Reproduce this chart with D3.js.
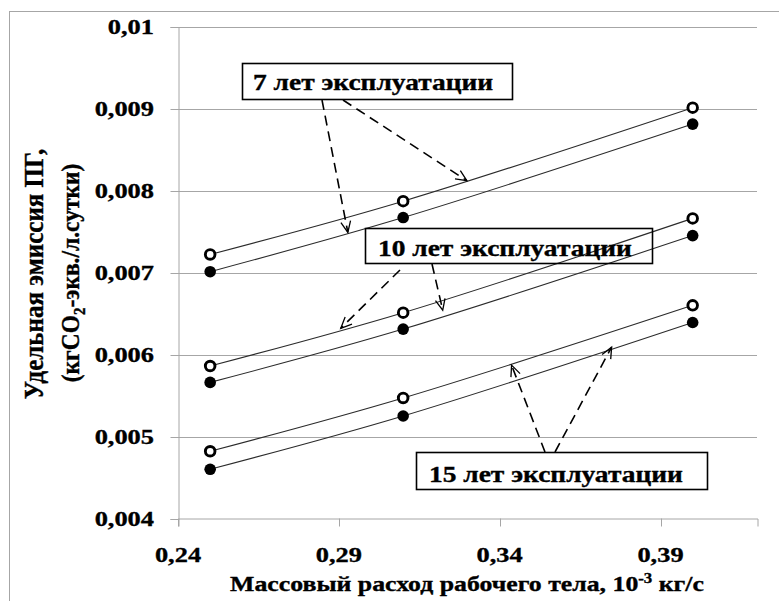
<!DOCTYPE html>
<html>
<head>
<meta charset="utf-8">
<script src="https://cdn.jsdelivr.net/npm/d3@7"></script>
<style>
  body { margin: 0; background: #fff; }
  svg { display: block; }
  text { font-family: "Liberation Serif", "Times New Roman", serif; font-weight: bold; fill: #000; stroke: #000; stroke-width: 0.35px; }
</style>
</head>
<body>
<div id="chart"></div>
<script>
// mass flow of working fluid, 10^-3 kg/s
var xValues = [0.25, 0.31, 0.40];

// open markers (upper curve) and filled markers (lower curve) for each service life
var open7 = [0.00722, 0.00787, 0.00901];
var solid7 = [0.00701, 0.00767, 0.00881];
var open10 = [0.00586, 0.00651, 0.00766];
var solid10 = [0.00566, 0.00631, 0.00745];
var open15 = [0.00482, 0.00547, 0.00660];
var solid15 = [0.00460, 0.00525, 0.00639];

var xTicks = [0.24, 0.29, 0.34, 0.39];
var yTicks = [0.004, 0.005, 0.006, 0.007, 0.008, 0.009, 0.01];
var yTickLabels = ["0,004", "0,005", "0,006", "0,007", "0,008", "0,009", "0,01"];
var xTickLabels = ["0,24", "0,29", "0,34", "0,39"];

var noteLabels = ["7 лет эксплуатации", "10 лет эксплуатации", "15 лет эксплуатации"];

var W = 779, H = 601;
var SX = 1.2; // the original picture is stretched horizontally

var svg = d3.select("#chart").append("svg")
    .attr("width", W)
    .attr("height", H);

// outer chart border (runs off the right and bottom)
svg.append("rect")
    .attr("x", 9.5).attr("y", 11.5)
    .attr("width", 800).attr("height", 700)
    .attr("fill", "none")
    .attr("stroke", "#a6a6a6");

var x = d3.scaleLinear().domain([0.24, 0.42]).range([178, 757]);
var y = d3.scaleLinear().domain([0.004, 0.01]).range([518.5, 26.5]);

// gridlines
svg.append("g").selectAll("line")
    .data(yTicks.slice(1))
    .enter().append("line")
    .attr("x1", x.range()[0]).attr("x2", x.range()[1])
    .attr("y1", function(d) { return Math.round(y(d)) + 0.5; })
    .attr("y2", function(d) { return Math.round(y(d)) + 0.5; })
    .attr("stroke", "#a6a6a6");

// axes
var yAxis = d3.axisLeft(y).tickValues(yTicks).tickSize(8).tickFormat("");
var xAxis = d3.axisBottom(x).tickValues(xTicks).tickSize(8).tickFormat("");

var gy = svg.append("g").attr("transform", "translate(178.5,0.5)").call(yAxis);
var gx = svg.append("g").attr("transform", "translate(0.5,518.5)").call(xAxis);
[gy, gx].forEach(function(g) {
    g.select(".domain").attr("stroke", "#a6a6a6");
    g.selectAll(".tick line").attr("stroke", "#a6a6a6");
});
gy.selectAll(".tick").attr("transform", function(d) { return "translate(0," + Math.round(y(d)) + ")"; });
gx.selectAll(".tick").attr("transform", function(d) { return "translate(" + Math.round(x(d)) + ",0)"; });

// tick labels
svg.append("g").selectAll("text")
    .data(yTicks)
    .enter().append("text")
    .attr("transform", function(d) { return "translate(154," + (y(d) + 7.5) + ") scale(" + SX + ",1)"; })
    .attr("text-anchor", "end")
    .style("font-size", "22px")
    .text(function(d, i) { return yTickLabels[i]; });

svg.append("g").selectAll("text")
    .data(xTicks)
    .enter().append("text")
    .attr("transform", function(d) { return "translate(" + x(d) + ",562) scale(" + SX + ",1)"; })
    .attr("text-anchor", "middle")
    .style("font-size", "22px")
    .text(function(d, i) { return xTickLabels[i]; });

// axis titles
var xt = svg.append("text")
    .attr("transform", "translate(467,591) scale(" + SX + ",1)")
    .attr("text-anchor", "middle")
    .style("font-size", "21.5px");
xt.append("tspan").text("Массовый расход рабочего тела, 10");
xt.append("tspan").attr("dy", -8).style("font-size", "14px").text("-3");
xt.append("tspan").attr("dy", 8).text(" кг/с");

svg.append("text")
    .attr("transform", "translate(43,274) scale(1.1,1) rotate(-90)")
    .attr("text-anchor", "middle")
    .style("font-size", "25px")
    .text("Удельная эмиссия ПГ,");

var yt2 = svg.append("text")
    .attr("transform", "translate(79,273) scale(1.1,1) rotate(-90)")
    .attr("text-anchor", "middle")
    .style("font-size", "23.5px");
yt2.append("tspan").text("(кгCO");
yt2.append("tspan").attr("dy", 5).style("font-size", "15px").text("2");
yt2.append("tspan").attr("dy", -5).text("-экв./л.сутки)");

// curves and markers
var seriesList = [
    { values: open7, open: true }, { values: solid7, open: false },
    { values: open10, open: true }, { values: solid10, open: false },
    { values: open15, open: true }, { values: solid15, open: false }
];

var line = d3.line()
    .x(function(d) { return x(d[0]); })
    .y(function(d) { return y(d[1]); })
    .curve(d3.curveCatmullRom.alpha(0.5));

var series = svg.append("g").selectAll("g")
    .data(seriesList)
    .enter().append("g");

series.append("path")
    .attr("d", function(s) { return line(d3.zip(xValues, s.values)); })
    .attr("fill", "none")
    .attr("stroke", "#2b2b2b")
    .attr("stroke-width", 1.1);

series.each(function(s) {
    d3.select(this).selectAll("circle")
        .data(d3.zip(xValues, s.values))
        .enter().append("circle")
        .attr("cx", function(d) { return x(d[0]); })
        .attr("cy", function(d) { return y(d[1]); })
        .attr("r", s.open ? 4.8 : 5.8)
        .attr("fill", s.open ? "#fff" : "#000")
        .attr("stroke", s.open ? "#000" : "none")
        .attr("stroke-width", 2.9);
});

// annotation boxes with dashed arrows; arrow tips are given in data units
var notes = [
    { box: [242, 63, 270, 36], textAt: [253, 90],
      arrows: [ { from: [322, 100], to: [0.2928, 0.00749] }, { from: [343, 100], to: [0.3298, 0.00812] } ] },
    { box: [365, 228, 287, 35], textAt: [378, 256],
      arrows: [ { from: [400, 270], to: [0.2906, 0.00632] }, { from: [432, 264], to: [0.3223, 0.00654] } ] },
    { box: [416, 452, 291, 37], textAt: [429, 482],
      arrows: [ { from: [545, 452], to: [0.3437, 0.00587] }, { from: [555, 452], to: [0.3748, 0.00609] } ] }
];

var noteG = svg.append("g").selectAll("g")
    .data(notes)
    .enter().append("g");

noteG.append("rect")
    .attr("x", function(d) { return d.box[0] + 0.5; })
    .attr("y", function(d) { return d.box[1] + 0.5; })
    .attr("width", function(d) { return d.box[2]; })
    .attr("height", function(d) { return d.box[3]; })
    .attr("fill", "none")
    .attr("stroke", "#000")
    .attr("stroke-width", 1.6);

noteG.append("text")
    .attr("transform", function(d) { return "translate(" + d.textAt[0] + "," + d.textAt[1] + ") scale(1.22,1)"; })
    .style("font-size", "22.5px")
    .text(function(d, i) { return noteLabels[i]; });

noteG.each(function(d) {
    var g = d3.select(this);
    d.arrows.forEach(function(a) {
        var x0 = a.from[0], y0 = a.from[1];
        var x1 = x(a.to[0]), y1 = y(a.to[1]);
        g.append("line")
            .attr("x1", x0).attr("y1", y0).attr("x2", x1).attr("y2", y1)
            .attr("stroke", "#000")
            .attr("stroke-width", 1.6)
            .attr("stroke-dasharray", "10,6");
        var ang = Math.atan2(y1 - y0, x1 - x0);
        var len = 12, spread = 0.42;
        var p1 = [x1 - len * Math.cos(ang - spread), y1 - len * Math.sin(ang - spread)];
        var p2 = [x1 - len * Math.cos(ang + spread), y1 - len * Math.sin(ang + spread)];
        g.append("path")
            .attr("d", "M" + p1 + "L" + [x1, y1] + "L" + p2)
            .attr("fill", "none")
            .attr("stroke", "#000")
            .attr("stroke-width", 1.3);
    });
});
</script>
</body>
</html>
